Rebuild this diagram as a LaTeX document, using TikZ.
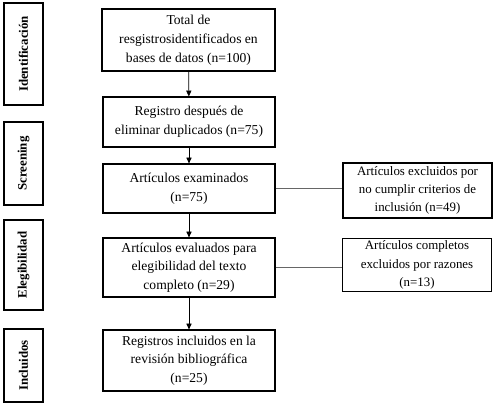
\documentclass[tikz,border=0pt]{standalone}
\usepackage{fontspec}
\setmainfont{Liberation Serif}
\usetikzlibrary{arrows.meta}

\begin{document}
\begin{tikzpicture}[every node/.style={font=\fontsize{11.6}{16}\selectfont},
  stage/.style={draw,line width=1pt,minimum width=5.16cm,align=center,inner sep=2pt},
  excl/.style={draw,line width=1pt,minimum width=4.47cm,align=center,inner sep=2pt,font=\fontsize{11}{15.5}\selectfont},
  phase/.style={draw,line width=1pt,rotate=90,minimum height=1.17cm,inner sep=2pt,font=\fontsize{11}{13}\selectfont\bfseries},
  flow/.style={-{Triangle[length=5pt,width=4.5pt]},line width=0.6pt},
  side/.style={gray!80!black,line width=0.8pt}]
\useasboundingbox (0,0) rectangle (14.88,12.24);
% phases
\node[phase,minimum width=3.06cm] (ident) at (0.705,10.62) {Identificación};
\node[phase,minimum width=2.49cm] (screen) at (0.705,7.335) {Screening};
\node[phase,minimum width=2.7cm] (elig) at (0.705,4.29) {Elegibilidad};
\node[phase,minimum width=2.19cm] (incl) at (0.705,1.275) {Incluidos};
% main flow
\node[stage,minimum width=5.19cm,minimum height=1.86cm] (total) at (5.655,11.04) {Total de\\resgistrosidentificados en\\bases de datos (n=100)};
\node[stage,minimum height=1.5cm] (dupl) at (5.67,8.58) {Registro después de\\eliminar duplicados (n=75)};
\node[stage,minimum height=1.47cm] (exam) at (5.67,6.585) {Artículos examinados\\(n=75)};
\node[stage,minimum height=1.77cm] (eval) at (5.67,4.215) {Artículos evaluados para\\elegibilidad del texto\\completo (n=29)};
\node[stage,minimum height=1.83cm] (final) at (5.67,1.425) {Registros incluidos en la\\revisión bibliográfica\\(n=25)};
% exclusions
\node[excl,minimum height=1.65cm] (crit) at (12.525,6.525) {Artículos excluidos por\\no cumplir criterios de\\inclusión (n=49)};
\node[excl,minimum height=1.56cm] (razon) at (12.51,4.29) {Artículos completos\\excluidos por razones\\(n=13)};
\draw[flow] (total) -- (dupl);
\draw[flow] (dupl) -- (exam);
\draw[flow] (exam) -- (eval);
\draw[flow] (eval) -- (final);
\draw[side] (exam.east) -- (exam.east -| crit.west);
\draw[side] (eval.east) -- (eval.east -| razon.west);
\end{tikzpicture}
\end{document}
